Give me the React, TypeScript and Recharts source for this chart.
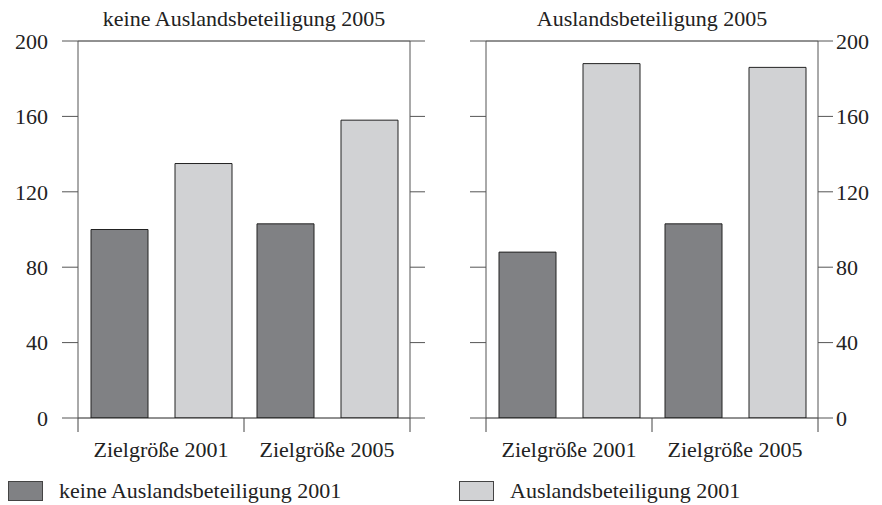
import { BarChart, Bar, XAxis, YAxis, ReferenceLine } from "recharts";

const CATEGORIES = ["Zielgröße 2001", "Zielgröße 2005"];
const PANEL_TITLES = ["keine Auslandsbeteiligung 2005", "Auslandsbeteiligung 2005"];
const SERIES_NAMES = ["keine Auslandsbeteiligung 2001", "Auslandsbeteiligung 2001"];

// panel 1: keine Auslandsbeteiligung 2005
const LEFT_NO_FOREIGN = [100, 103];
const LEFT_FOREIGN = [135, 158];
// panel 2: Auslandsbeteiligung 2005
const RIGHT_NO_FOREIGN = [88, 103];
const RIGHT_FOREIGN = [188, 186];

const Y_TICKS = [0, 40, 80, 120, 160, 200];

const DARK = "#808184";
const LIGHT = "#d1d2d4";
const FONT = "'Liberation Serif', 'DejaVu Serif', serif";
const PLOT_W = 332;

type Row = { name: string; a: number; b: number };

function buildRows(a: number[], b: number[]): Row[] {
  return CATEGORIES.map((name, i) => ({ name, a: a[i], b: b[i] }));
}

// label at band center, tick lines at the band edges
function EdgeTick(props: any) {
  const { x, y, payload, index } = props;
  const half = PLOT_W / CATEGORIES.length / 2;
  const axisY = y - 23;
  return (
    <g>
      <line x1={x - half} x2={x - half} y1={axisY} y2={axisY + 14} stroke="#444" />
      {index === CATEGORIES.length - 1 && (
        <line x1={x + half} x2={x + half} y1={axisY} y2={axisY + 14} stroke="#444" />
      )}
      <text x={x} y={y} dy="0.71em" textAnchor="middle" fill="#222" fontSize={22} fontFamily={FONT}>
        {payload.value}
      </text>
    </g>
  );
}

const NoLabel = () => <g />;

function Panel({
  rows,
  labelsRight,
  width,
  leftW,
  rightW,
}: {
  rows: Row[];
  labelsRight: boolean;
  width: number;
  leftW: number;
  rightW: number;
}) {
  const tickStyle = { fill: "#222", fontSize: 22, fontFamily: FONT };
  return (
    <BarChart
      width={width}
      height={470}
      data={rows}
      margin={{ top: 41, right: 0, bottom: 0, left: 0 }}
      barCategoryGap={13}
      barGap={27}
    >
      <XAxis
        dataKey="name"
        height={52}
        tickLine={false}
        tickSize={14}
        tickMargin={9}
        axisLine={{ stroke: "#222" }}
        tick={<EdgeTick />}
        interval={0}
      />
      <YAxis
        yAxisId="l"
        orientation="left"
        width={leftW}
        domain={[0, 200]}
        allowDataOverflow
        ticks={Y_TICKS}
        tickSize={16}
        tickMargin={labelsRight ? 0 : 14}
        tick={labelsRight ? NoLabel : tickStyle}
        axisLine={{ stroke: "#555" }}
        tickLine={{ stroke: "#555" }}
      />
      <YAxis
        yAxisId="r"
        orientation="right"
        width={rightW}
        domain={[0, 200]}
        allowDataOverflow
        ticks={Y_TICKS}
        tickSize={15}
        tickMargin={labelsRight ? 3 : 0}
        tick={labelsRight ? tickStyle : NoLabel}
        axisLine={{ stroke: "#555" }}
        tickLine={{ stroke: "#555" }}
      />
      <ReferenceLine yAxisId="l" y={200} stroke="#222" />
      <Bar yAxisId="l" dataKey="a" fill={DARK} stroke="#222" isAnimationActive={false} />
      <Bar yAxisId="l" dataKey="b" fill={LIGHT} stroke="#222" isAnimationActive={false} />
    </BarChart>
  );
}

export default function App() {
  const titleStyle = {
    position: "absolute" as const,
    top: 8,
    width: PLOT_W,
    textAlign: "center" as const,
    fontSize: 22,
    lineHeight: "22px",
    color: "#222",
  };
  const legendText = {
    position: "absolute" as const,
    top: 480,
    fontSize: 22,
    lineHeight: "22px",
    color: "#222",
    whiteSpace: "nowrap" as const,
  };
  const swatch = {
    position: "absolute" as const,
    top: 481,
    width: 35,
    height: 20,
    border: "1px solid #444",
    boxSizing: "border-box" as const,
  };
  return (
    <div
      style={{
        position: "absolute",
        left: 0,
        top: 0,
        width: 882,
        height: 505,
        background: "#fff",
        fontFamily: FONT,
        overflow: "hidden",
      }}
    >
      <div style={{ ...titleStyle, left: 78 }}>{PANEL_TITLES[0]}</div>
      <div style={{ ...titleStyle, left: 486 }}>{PANEL_TITLES[1]}</div>
      <div style={{ position: "absolute", left: 0, top: 0 }}>
        <Panel rows={buildRows(LEFT_NO_FOREIGN, LEFT_FOREIGN)} labelsRight={false} width={441} leftW={78} rightW={31} />
      </div>
      <div style={{ position: "absolute", left: 441, top: 0 }}>
        <Panel rows={buildRows(RIGHT_NO_FOREIGN, RIGHT_FOREIGN)} labelsRight={true} width={441} leftW={45} rightW={64} />
      </div>
      <div style={{ ...swatch, left: 8, background: DARK }} />
      <div style={{ ...legendText, left: 59 }}>{SERIES_NAMES[0]}</div>
      <div style={{ ...swatch, left: 459, background: LIGHT }} />
      <div style={{ ...legendText, left: 510 }}>{SERIES_NAMES[1]}</div>
    </div>
  );
}
